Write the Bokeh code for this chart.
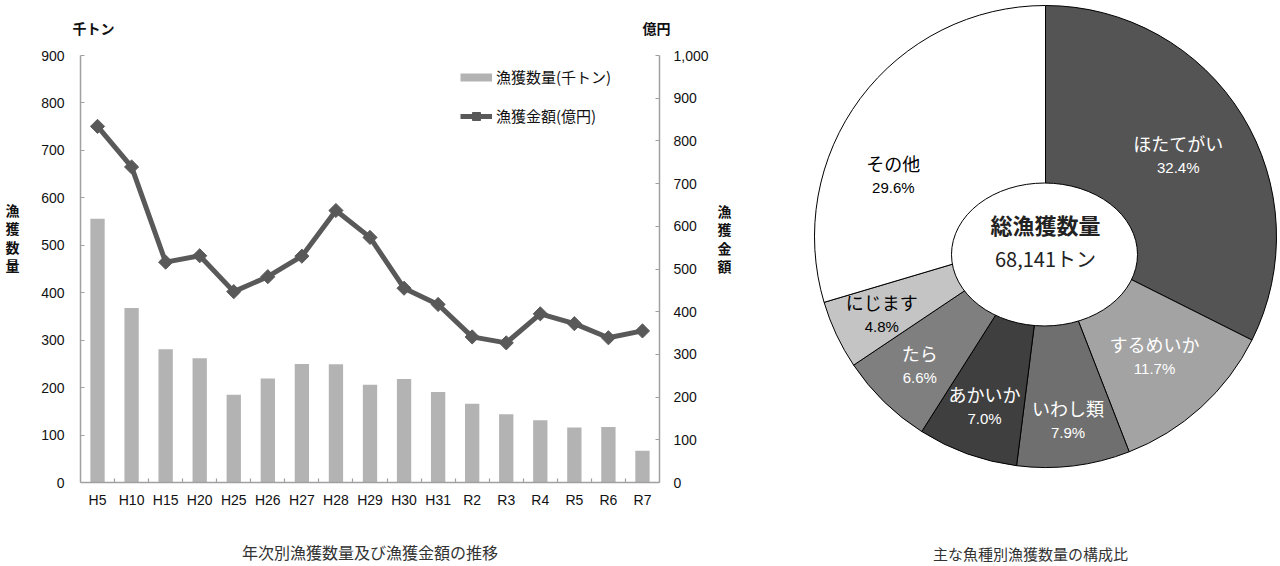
import math
from bokeh.plotting import figure
from bokeh.models import (Range1d, LinearAxis, FixedTicker, NumeralTickFormatter,
                          Legend, LegendItem, ColumnDataSource, CustomJSTickFormatter)
from bokeh.layouts import row
from bokeh.core.properties import value
from bokeh.embed import file_html
from bokeh.resources import INLINE

# ---------------- data ----------------
years = ["H5", "H10", "H15", "H20", "H25", "H26", "H27", "H28", "H29",
         "H30", "H31", "R2", "R3", "R4", "R5", "R6", "R7"]
catch_kt = [556, 368, 281, 262, 185, 219, 250, 249, 206, 218, 191, 166, 144, 131, 116, 117, 67]
value_oku = [834, 739, 516, 531, 447, 482, 530, 637, 574, 455, 417, 341, 327, 395, 372, 339, 355]

species = ["ほたてがい", "するめいか", "いわし類", "あかいか", "たら", "にじます", "その他"]
share_pct = [32.4, 11.7, 7.9, 7.0, 6.6, 4.8, 29.6]
total_tons = 68141

left_ticks = list(range(0, 901, 100))
right_ticks = list(range(0, 1001, 100))

# ---------------- styles ----------------
JP = "Noto Sans CJK JP"
LAT = "Liberation Sans"
AX_GRAY = "#a0a0a0"
BAR_COLOR = "#b3b3b3"
LINE_COLOR = "#595959"
slice_colors = ["#545454", "#a3a3a3", "#6f6f6f", "#3f3f3f", "#7f7f7f", "#c4c4c4", "#ffffff"]
slice_text_colors = ["white", "white", "white", "white", "white", "black", "black"]

W1, H = 780, 566
FL, FR, FT, FB = 80, 659, 55, 484      # frame edges in page px
N = len(years)


def px_x(px):
    return (px - FL) / (FR - FL) * N


def px_y(py):
    return (FB - py) / (FB - FT) * 900


xc = [i + 0.5 for i in range(N)]          # category centres (index based)

# ---------------- left chart ----------------
p = figure(width=W1, height=H, x_range=Range1d(0, N), y_range=Range1d(0, 900),
           output_backend="svg", toolbar_location=None,
           min_border_left=FL, min_border_right=W1 - FR,
           min_border_top=FT, min_border_bottom=H - FB,
           outline_line_color=None)
p.extra_y_ranges = {"amt": Range1d(0, 1000)}
p.xgrid.visible = False
p.ygrid.visible = False

bars = p.vbar(x=xc, top=catch_kt, width=0.42, fill_color=BAR_COLOR, line_color=None)
ln = p.line(x=xc, y=value_oku, line_color=LINE_COLOR, line_width=5, y_range_name="amt")
mk = p.scatter(x=xc, y=value_oku, marker="square", angle=math.pi / 4, size=10,
               fill_color=LINE_COLOR, line_color=LINE_COLOR, y_range_name="amt")


def style_axis(ax):
    ax.axis_line_color = AX_GRAY
    ax.axis_line_width = 1.5
    ax.major_tick_line_color = AX_GRAY
    ax.major_tick_in = 4
    ax.major_tick_out = 0
    ax.minor_tick_line_color = None
    ax.major_label_text_font = LAT
    ax.major_label_text_font_size = "14px"
    ax.major_label_text_color = "#111111"


def text_only(ax, font_size="14px", bold=True):
    ax.axis_line_color = None
    ax.major_tick_line_color = None
    ax.minor_tick_line_color = None
    ax.major_label_text_font = JP
    ax.major_label_text_font_style = "bold" if bold else "normal"
    ax.major_label_text_font_size = font_size
    ax.major_label_text_color = "#111111"


def label_formatter(ticks, labels):
    return CustomJSTickFormatter(args=dict(tv=ticks, labels=labels), code="""
        let best = 0, d = Infinity;
        for (let i = 0; i < tv.length; i++) {
            const e = Math.abs(tv[i] - tick);
            if (e < d) { d = e; best = i; }
        }
        return labels[best];
    """)


yl = p.yaxis[0]
style_axis(yl)
yl.ticker = FixedTicker(ticks=left_ticks)
yl.major_label_standoff = 16

xa = p.xaxis[0]
style_axis(xa)
xa.ticker = FixedTicker(ticks=xc, minor_ticks=list(range(1, N)))
xa.formatter = label_formatter(xc, years)
xa.major_tick_line_color = None
xa.minor_tick_line_color = AX_GRAY
xa.minor_tick_line_width = 1.2
xa.minor_tick_in = 4
xa.minor_tick_out = 0
xa.major_label_standoff = 9
xa.axis_label = "年次別漁獲数量及び漁獲金額の推移"
xa.axis_label_text_font = JP
xa.axis_label_text_font_style = "normal"
xa.axis_label_text_font_size = "16px"
xa.axis_label_text_color = "#333333"
xa.axis_label_standoff = 29

yr = LinearAxis(y_range_name="amt", ticker=FixedTicker(ticks=right_ticks),
                formatter=NumeralTickFormatter(format="0,0"))
style_axis(yr)
yr.major_label_standoff = 14
p.add_layout(yr, "right")


def char_axis(chars, first_px, step_px, standoff):
    ticks = [px_y(first_px + step_px * i) for i in range(len(chars))]
    ax = LinearAxis(ticker=FixedTicker(ticks=ticks), formatter=label_formatter(ticks, list(chars)))
    text_only(ax)
    ax.major_label_standoff = standoff
    return ax


p.add_layout(char_axis("漁獲数量", 210, 18.5, 13), "left")
p.add_layout(char_axis("漁獲金額", 211, 18.5, 0), "right")

# unit titles above the axes (tick labels of a bare axis on top)
unit_pos = [px_x(93), px_x(656)]
unit_txt = ["千トン", "億円"]
top_ax = LinearAxis(ticker=FixedTicker(ticks=unit_pos), formatter=label_formatter(unit_pos, unit_txt))
text_only(top_ax)
top_ax.major_label_standoff = 12
p.add_layout(top_ax, "above")

# legend
dummy = p.line(x=[xc[0]], y=[-100], line_color=BAR_COLOR, line_width=8)
legend = Legend(items=[LegendItem(label="漁獲数量(千トン)", renderers=[dummy]),
                       LegendItem(label="漁獲金額(億円)", renderers=[ln, mk])],
                location=(380, 356), border_line_color=None, background_fill_alpha=0,
                label_text_font=JP, label_text_font_size="15px", label_text_color="#111111",
                glyph_width=32, glyph_height=20, label_height=20, spacing=18,
                padding=0, margin=0, label_standoff=4)
p.add_layout(legend)

# ---------------- right chart (donut) ----------------
W2 = 500
q = figure(width=W2, height=H, x_range=Range1d(0, W2), y_range=Range1d(H - FB, H),
           output_backend="svg", toolbar_location=None,
           min_border_left=0, min_border_right=0, min_border_top=0, min_border_bottom=H - FB,
           x_axis_location=None, y_axis_location=None, outline_line_color=None)
q.xgrid.visible = False
q.ygrid.visible = False

for fig in (p, q):
    if "frame_align" in fig.properties():
        fig.frame_align = False

cap = LinearAxis(ticker=FixedTicker(ticks=[]), axis_label="主な魚種別漁獲数量の構成比")
cap.axis_line_color = None
cap.major_tick_line_color = None
cap.minor_tick_line_color = None
cap.axis_label_text_font = JP
cap.axis_label_text_font_style = "normal"
cap.axis_label_text_font_size = "15px"
cap.axis_label_text_color = "#333333"
cap.axis_label_standoff = 58
q.add_layout(cap, "below")

CX, CY, R = 265, 330, 231
starts, ends, mids = [], [], []
acc = 0.0
tot = sum(share_pct)
for s in share_pct:
    a0 = math.pi / 2 - 2 * math.pi * acc / tot
    acc += s
    a1 = math.pi / 2 - 2 * math.pi * acc / tot
    starts.append(a0)
    ends.append(a1)
    mids.append((a0 + a1) / 2)

src = ColumnDataSource(dict(start=starts, end=ends, color=slice_colors))
q.wedge(x=CX, y=CY, radius=R, start_angle="start", end_angle="end", direction="clock",
        fill_color="color", line_color="black", line_width=1, source=src)
q.ellipse(x=264, y=312, width=186, height=143, fill_color="white", line_color="black", line_width=1)

# label placement (layout): radius from centre and angular tweak per slice
LABEL_R = [156, 162, 185, 180, 180, 181, 164]
LABEL_TWEAK = [0, 0, 0, 0, 0, 0, math.radians(14.8)]
nx, ny, px_, py_ = [], [], [], []
for m, r, t in zip(mids, LABEL_R, LABEL_TWEAK):
    a = m + t
    lx = CX + r * math.cos(a)
    ly = CY + r * math.sin(a)
    nx.append(lx); ny.append(ly + 12)
    px_.append(lx); py_.append(ly - 12.5)

q.text(x=nx, y=ny, text=species, text_font=value(JP), text_font_size="18px",
       text_color=slice_text_colors, text_align="center", text_baseline="middle")
q.text(x=px_, y=py_, text=[f"{s:.1f}%" for s in share_pct], text_font=value(LAT),
       text_font_size="15px", text_color=slice_text_colors,
       text_align="center", text_baseline="middle")

q.text(x=[265], y=[343], text=["総漁獲数量"], text_font=value(JP), text_font_size="22px",
       text_font_style="bold", text_color="#222222", text_align="center", text_baseline="middle")
q.text(x=[265], y=[308], text=[f"{total_tons:,}トン"], text_font=value(JP), text_font_size="20px",
       text_color="#222222", text_align="center", text_baseline="middle")

layout = row(p, q)
open("out.html", "w").write(file_html(layout, INLINE))
